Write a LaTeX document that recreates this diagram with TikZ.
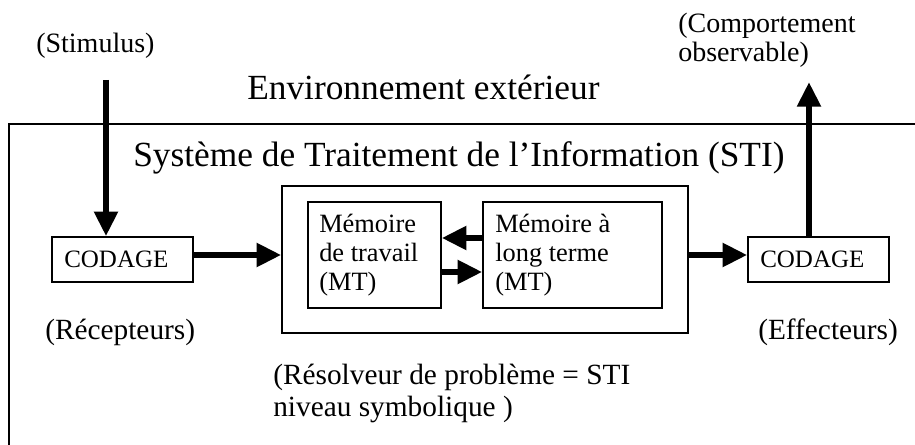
\documentclass[tikz,border=0pt]{standalone}
\usepackage{fontspec}
\setmainfont{Liberation Serif}
\usetikzlibrary{arrows.meta,fit}
% left-aligned block of lines whose baseline is the first line
\newcommand\linesleft[1]{\begin{tabular}[t]{@{}l@{}}#1\end{tabular}}
\begin{document}
\begin{tikzpicture}[x=0.75pt,y=-0.75pt,
  frame/.style={line width=1.1pt},
  box/.style={draw,line width=1.1pt,inner sep=0pt,fit={#1}},
  flow/.style={line width=5.2pt,-{Triangle[length=18.5pt,width=17pt]}},
  txt/.style={anchor=base west,inner sep=0pt},
  big/.style={font=\fontsize{26.5}{30}\selectfont},
  small/.style={font=\fontsize{21}{21.75}\selectfont},
  mid/.style={font=\fontsize{22}{24}\selectfont},
  mem/.style={font=\fontsize{19.8}{21.5}\selectfont},
  code/.style={font=\fontsize{18.75}{20}\selectfont}]
\useasboundingbox (0,0) rectangle (915,445);

% environment / system boundary
\draw[frame] (9,445) -- (9,124) -- (915,124);

% boxes
\node[box={(52,237) (193,282)}]  (codL) {};
\node[box={(282,186) (688,333)}] (sti)  {};
\node[box={(308,202) (441,308)}] (mt)   {};
\node[box={(483,202) (662,308)}] (mlt)  {};
\node[box={(748,237) (889,282)}] (codR) {};

% texts
\node[txt,big]   (envt)  at (247,100) {Environnement extérieur};
\node[txt,big]   (title) at (133,167) {Système de Traitement de l’Information (STI)};
\node[txt,small] (stim)  at (36,53)   {(Stimulus)};
\node[txt,small] (comp)  at (678,33)  {\linesleft{(Comportement\\observable)}};
\node[txt,code]  (codLt) at (64,268)  {CODAGE};
\node[txt,code]  (codRt) at (760,268) {CODAGE};
\node[txt,mem]   (mtt)   at (319,233) {\linesleft{Mémoire\\de travail\\(MT)}};
\node[txt,mem]   (mltt)  at (495,233) {\linesleft{Mémoire à\\long terme\\(MT)}};
\node[txt,mid]   (recep) at (45,340)  {(Récepteurs)};
\node[txt,mid]   (effec) at (758,340) {(Effecteurs)};
\node[txt,mid]   (resol) at (273,385) {\linesleft{(Résolveur de problème = STI\\niveau symbolique )}};

% connectors
\coordinate (stimtop) at (106,80);
\coordinate (outtop)  at (809,82);
\coordinate (midline) at (0,255);
\coordinate (upper)   at (0,238);
\coordinate (lower)   at (0,272);
\draw[flow] (stimtop) -- (stimtop |- codL.north);
\draw[flow] (codL.east |- midline) -- (sti.west |- midline);
\draw[flow] (mlt.west |- upper) -- (mt.east |- upper);
\draw[flow] (mt.east |- lower) -- (mlt.west |- lower);
\draw[flow] (sti.east |- midline) -- (codR.west |- midline);
\draw[flow] (outtop |- codR.north) -- (outtop);
\end{tikzpicture}
\end{document}
